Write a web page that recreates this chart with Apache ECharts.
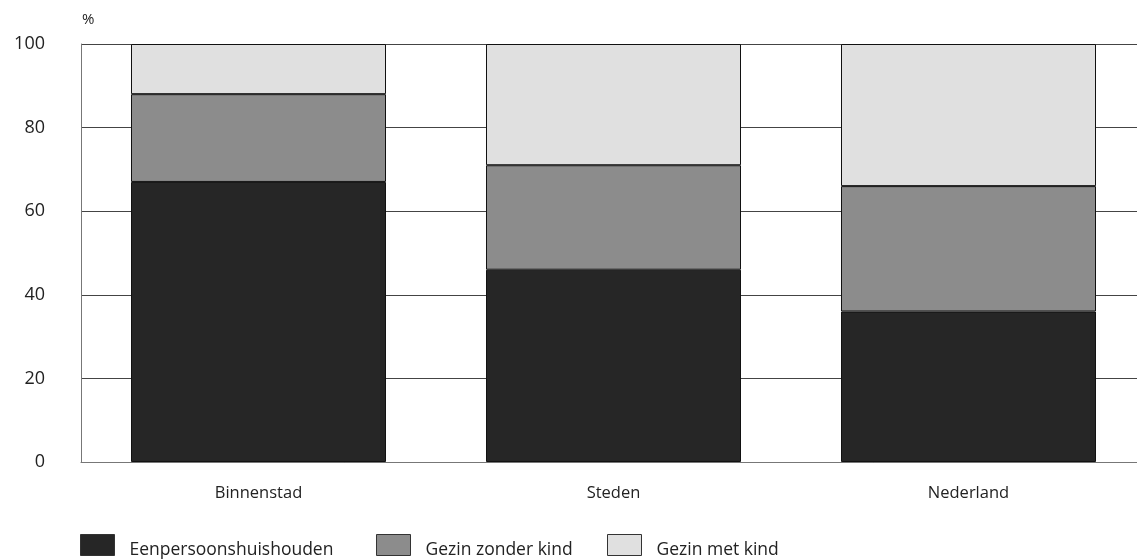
<!DOCTYPE html>
<html>
<head>
<meta charset="utf-8">
<script src="https://cdn.jsdelivr.net/npm/echarts@6/dist/echarts.min.js"></script>
<style>
html,body{margin:0;padding:0;background:#fff;}
#c{width:1137px;height:559px;}
</style>
</head>
<body>
<div id="c"></div>
<script>
const categories = ['Binnenstad', 'Steden', 'Nederland'];
const seriesNames = ['Eenpersoonshuishouden', 'Gezin zonder kind', 'Gezin met kind'];
const eenpersoons = [67, 46, 36];
const gezinZonderKind = [21, 25, 30];
const gezinMetKind = [12, 29, 34];
const yTicks = [0, 20, 40, 60, 80, 100];

const colors = ['#262626', '#8c8c8c', '#e0e0e0'];
const font = '"Open Sans", "Noto Sans", sans-serif';
const chart = echarts.init(document.getElementById('c'), null, {renderer: 'canvas'});

const values = [eenpersoons, gezinZonderKind, gezinMetKind];
const legendLeft = [80, 376, 607];

chart.setOption({
  animation: false,
  backgroundColor: '#fff',
  textStyle: {fontFamily: font},
  grid: {left: 81, width: 1065, top: 44, bottom: 97, containLabel: false, outerBoundsMode: 'none'},
  legend: seriesNames.map((n, i) => ({
    data: [n],
    left: legendLeft[i],
    top: 534,
    padding: 0,
    itemWidth: 34,
    itemHeight: 21,
    icon: 'rect',
    itemStyle: {borderColor: '#333', borderWidth: 1},
    formatter: '{t|{name}}',
    textStyle: {
      fontFamily: font, fontSize: 17.5, color: '#222', padding: [0, 0, 0, 10],
      rich: {t: {fontFamily: font, fontSize: 17.5, color: '#222', padding: [11, 0, 0, 0]}}
    },
    selectedMode: false
  })),
  xAxis: {
    type: 'category',
    data: categories,
    axisLine: {show: true, lineStyle: {color: '#777', width: 1}},
    axisTick: {show: false},
    axisLabel: {fontFamily: font, fontSize: 16.5, color: '#222', margin: 23}
  },
  yAxis: {
    type: 'value',
    min: yTicks[0],
    max: yTicks[yTicks.length - 1],
    interval: yTicks[1] - yTicks[0],
    name: '%',
    nameLocation: 'end',
    nameGap: 17,
    nameTextStyle: {fontFamily: font, fontSize: 15, color: '#222', align: 'left', padding: [0, 0, 0, 1]},
    axisLine: {show: true, lineStyle: {color: '#777', width: 1}},
    axisTick: {show: false},
    axisLabel: {fontFamily: font, fontSize: 18, color: '#222', margin: 36},
    splitLine: {show: true, lineStyle: {color: '#444', width: 1}}
  },
  series: values.map((v, i) => ({
    name: seriesNames[i],
    type: 'bar',
    stack: 'total',
    data: v,
    barWidth: 255,
    itemStyle: {color: colors[i], borderColor: '#111', borderWidth: 1}
  }))
});
</script>
</body>
</html>
